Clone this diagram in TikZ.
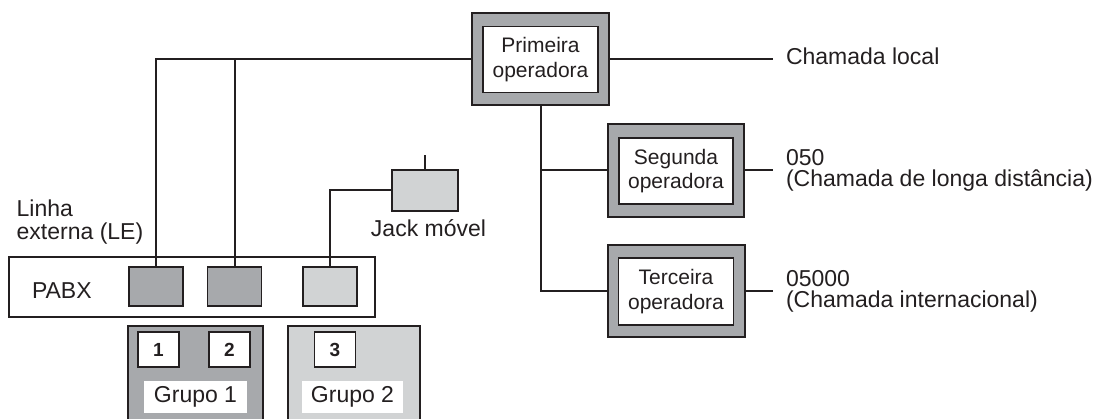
\documentclass[tikz,border=0pt]{standalone}
\usepackage{fontspec}
\setmainfont{Liberation Sans}
\definecolor{dk}{HTML}{A7A9AC}
\definecolor{lt}{HTML}{D1D3D4}
\definecolor{ink}{HTML}{231F20}
\begin{document}
\begin{tikzpicture}[x=1pt,y=-1pt,
  every node/.style={inner sep=0pt, outer sep=0pt, text=ink},
  wire/.style={draw=ink, line width=2pt},
  outerbox/.style={draw=ink, fill=dk, line width=2pt, minimum width=137pt, minimum height=92pt},
  innerbox/.style={draw=ink, fill=white, line width=1.6pt, minimum width=115pt, minimum height=66pt, font=\fontsize{21}{24.5}\selectfont, align=center},
  lbl/.style={font=\fontsize{23}{21.5}\selectfont, align=left, anchor=west},
  port/.style={draw=ink, line width=1.6pt, minimum width=54pt, minimum height=39pt},
  grpbox/.style={draw=ink, line width=2pt, minimum width=134pt, minimum height=110pt, anchor=north},
  numbox/.style={draw=ink, fill=white, line width=1.6pt, minimum width=41pt, minimum height=35pt, font=\bfseries\fontsize{19}{19}\selectfont},
  grplbl/.style={fill=white, minimum width=103pt, minimum height=32pt, font=\fontsize{23}{23}\selectfont}
]
\useasboundingbox (0,0) rectangle (1113,419);
\clip (0,0) rectangle (1113,419);

% operators
\node[outerbox] (primo) at (540.5,59) {};
\node[innerbox] (prim) at (540.5,59.5) {Primeira\\operadora};
\node[outerbox, minimum width=136pt, minimum height=93pt] (sego) at (676,170.5) {};
\node[innerbox, minimum width=114pt] (seg) at (676,171) {Segunda\\operadora};
\node[outerbox, minimum width=137pt, minimum height=92pt] (terco) at (676,291.5) {};
\node[innerbox, minimum width=115pt, minimum height=67pt] (terc) at (676,291.5) {Terceira\\operadora};

% PABX
\node[draw=ink, line width=1.3pt, minimum width=366pt, minimum height=60pt] (pabx) at (192,287) {};
\node[lbl] (pabxt) at (32,290.5) {PABX};
\node[port, fill=dk] (port1) at (156,286.5) {};
\node[port, fill=dk] (port2) at (234.5,286.5) {};
\node[port, fill=lt] (port3) at (330,286.5) {};

% jack
\node[port, fill=lt, minimum width=66pt, minimum height=41pt] (jack) at (425,190.5) {};
\coordinate (jtop) at (425,155);
\node[font=\fontsize{23}{23}\selectfont] (jackt) at (428.5,228) {Jack móvel};

% left label
\node[lbl, font=\fontsize{23}{22.6}\selectfont] (le) at (16.7,222) {Linha\\externa (LE)};

% groups
\node[grpbox, fill=dk, minimum width=135pt] (g1) at (195.5,326) {};
\node[grpbox, fill=lt, minimum width=132pt] (g2) at (354,326) {};
\node[numbox] (n1) at (158.5,349.5) {1};
\node[numbox] (n2) at (229.5,349.5) {2};
\node[numbox] (n3) at (335,349.5) {3};
\node[grplbl] (gl1) at (195.5,397) {Grupo 1};
\node[grplbl, minimum width=101pt] (gl2) at (352.5,397) {Grupo 2};

% right labels
\coordinate (cl) at (773,59);
\coordinate (c050) at (773,170.5);
\coordinate (c05000) at (773,291.5);
\node[lbl] (cltext) at (786,56) {Chamada local};
\node[lbl] (l050) at (786,170.5) {050\\(Chamada de longa distância)};
\node[lbl] (l05000) at (786,291.5) {05000\\(Chamada internacional)};

% wires
\draw[wire] (primo.west) -| (port1.north);
\draw[wire] (port2.north) -- (port2.north |- primo.west);
\draw[wire] (primo.east) -- (cl);
\draw[wire] (primo.south) -- (primo.south |- terco.west) -- (terco.west);
\draw[wire] (primo.south |- sego.west) -- (sego.west);
\draw[wire] (sego.east) -- (c050);
\draw[wire] (terco.east) -- (c05000);
\draw[wire] (port3.north) |- (jack.west);
\draw[wire] (jack.north) -- (jtop);
\end{tikzpicture}
\end{document}
